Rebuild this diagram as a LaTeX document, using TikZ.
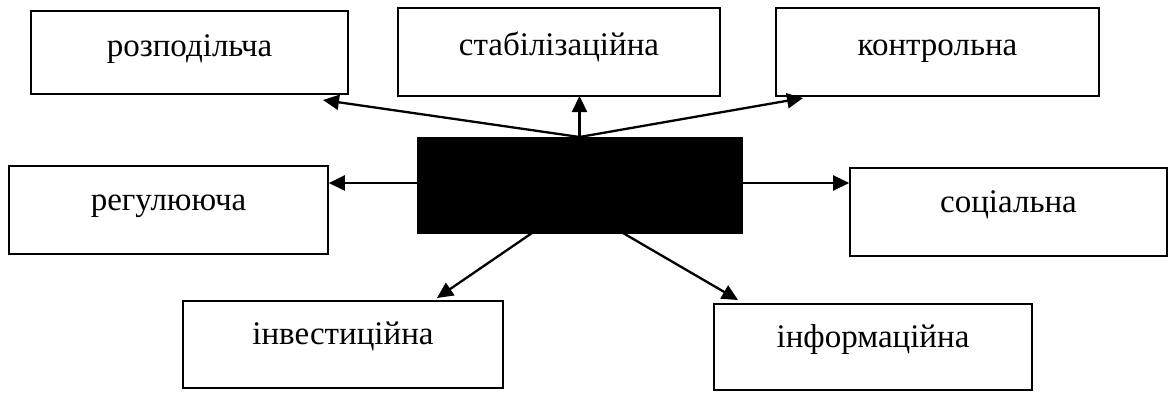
\documentclass[tikz,border=0pt]{standalone}
\usepackage{fontspec}
\setmainfont{Liberation Serif}
\usetikzlibrary{arrows.meta}
\tikzset{
  fbox/.style={draw, line width=1.6pt, inner xsep=0pt, inner ysep=0pt,
    text height=44pt, text depth=44pt, minimum width=320pt,
    font=\fontsize{33}{38}\selectfont},
  core/.style={fill=black, draw=black, inner sep=0pt,
    minimum width=325pt, minimum height=96pt},
  arr/.style={-{Triangle[length=16pt,width=15pt]}, line width=2.3pt}
}
\begin{document}
\begin{tikzpicture}[x=1pt,y=-1pt]
  \useasboundingbox (0,0) rectangle (1169,392);
  % function boxes (baseline set by text height / depth)
  \node[fbox, minimum width=317pt, text height=45pt, text depth=38pt, anchor=base] (rozp) at (189.5,56) {розподільча};
  \node[fbox, minimum width=322pt, text height=47pt, text depth=41pt, anchor=base] (stab) at (559,55) {стабілізаційна};
  \node[fbox, minimum width=323pt, text height=47pt, text depth=41pt, anchor=base] (kontr) at (937.5,55) {контрольна};
  \node[fbox, minimum width=319pt] (reg) at (168.5,210) {регулююча};
  \node[fbox, minimum width=317pt] (soc) at (1008.5,212) {соціальна};
  \node[fbox, minimum width=320pt, text height=43.5pt, text depth=43.5pt] (inv) at (343,344.5) {інвестиційна};
  \node[fbox, minimum width=318pt, text height=43pt, text depth=43pt] (inf) at (873,347) {інформаційна};
  % central block
  \node[core] (c) at (579.5,185) {};
  % arrow end points
  \coordinate (top) at (579.5,137);
  \coordinate (tRozp) at (323,100);
  \coordinate (tStab) at (579.5,96);
  \coordinate (tKontr) at (803,98);
  \coordinate (sL) at (417,183);
  \coordinate (sR) at (742,183);
  \coordinate (sBL) at (532,233);
  \coordinate (tBL) at (437,298);
  \coordinate (sBR) at (623,233);
  \coordinate (tBR) at (738,300);
  % connectors
  \draw[arr] (top) -- (tRozp);
  \draw[arr] (top) -- (tStab);
  \draw[arr] (top) -- (tKontr);
  \draw[arr] (sL) -- (reg.east |- sL);
  \draw[arr] (sR) -- (soc.west |- sR);
  \draw[arr] (sBL) -- (tBL);
  \draw[arr] (sBR) -- (tBR);
\end{tikzpicture}
\end{document}
